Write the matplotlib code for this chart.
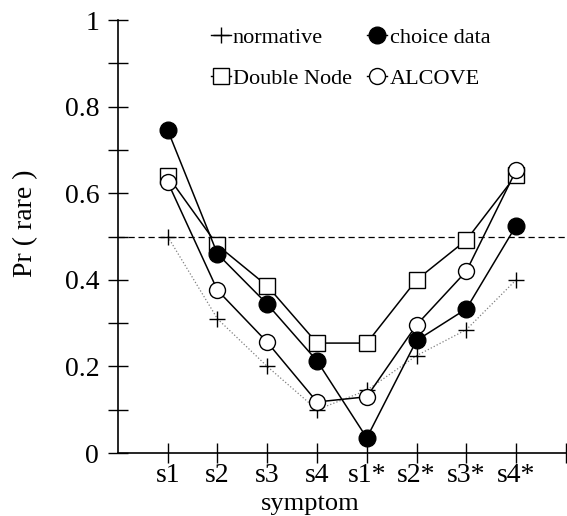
import matplotlib.pyplot as plt

# symptom categories and model / data curves
symptoms = ['s1', 's2', 's3', 's4', 's1*', 's2*', 's3*', 's4*']
normative = [0.50, 0.31, 0.20, 0.10, 0.145, 0.225, 0.285, 0.40]
choice_data = [0.746, 0.46, 0.344, 0.213, 0.035, 0.26, 0.333, 0.525]
double_node = [0.64, 0.48, 0.386, 0.254, 0.254, 0.40, 0.492, 0.642]
alcove = [0.626, 0.376, 0.256, 0.118, 0.13, 0.296, 0.42, 0.653]

plt.rcParams['font.family'] = ['Liberation Serif', 'DejaVu Serif']

fig = plt.figure(figsize=(5.67, 5.16), dpi=100)
ax = fig.add_axes([0.208, 0.122, 0.79, 0.839])

xs = list(range(1, len(symptoms) + 1))

ax.axhline(0.5, color='black', lw=0.9, ls=(0, (5, 3)))

h_norm, = ax.plot(xs, normative, color='grey', lw=0.9, ls=':', marker='+',
                  ms=11, mec='black', mew=1.0)
h_dn, = ax.plot(xs, double_node, color='black', lw=1.1, marker='s', ms=11,
                mfc='white', mec='black', mew=1.0)
h_al, = ax.plot(xs, alcove, color='black', lw=1.1, marker='o', ms=11.5,
                mfc='white', mec='black', mew=1.0)
h_cd, = ax.plot(xs, choice_data, color='black', lw=1.1, marker='o', ms=12,
                mfc='black', mec='black')

ax.set_xlim(0, 9)
ax.set_ylim(0, 1)
ax.set_xticks(xs + [9])
ax.set_xticklabels(symptoms + [''])
ax.set_yticks([0, 0.2, 0.4, 0.6, 0.8, 1])
ax.set_yticklabels(['0', '0.2', '0.4', '0.6', '0.8', '1'])
ax.set_yticks([0.1, 0.3, 0.5, 0.7, 0.9], minor=True)

for side in ['top', 'right']:
    ax.spines[side].set_visible(False)
ax.spines['left'].set_linewidth(1.2)
ax.spines['bottom'].set_linewidth(1.2)
ax.spines['left'].set_bounds(0, 1)

ax.tick_params(axis='both', which='both', direction='inout', length=15,
               width=1.0, labelsize=20, colors='black')
ax.tick_params(axis='y', pad=6)
ax.tick_params(axis='x', pad=0)

ax.set_xlabel('symptom', fontsize=19)
ax.set_ylabel('Pr ( rare )', fontsize=20)
ax.xaxis.set_label_coords(0.43, -0.092)
ax.yaxis.set_label_coords(-0.178, 0.53)

leg = ax.legend([h_norm, h_dn, h_cd, h_al],
                ['normative', 'Double Node', 'choice data', 'ALCOVE'],
                ncol=2, frameon=False, fontsize=16, handlelength=0.9,
                handletextpad=0.1, columnspacing=0.7, labelspacing=0.93,
                loc='upper left', bbox_to_anchor=(0.336, 0.986),
                bbox_transform=fig.transFigure)
for line in leg.get_lines():
    line.set_linestyle('-')
    line.set_color('black')
    line.set_linewidth(1.0)

fig.savefig('out.png', dpi=100)
